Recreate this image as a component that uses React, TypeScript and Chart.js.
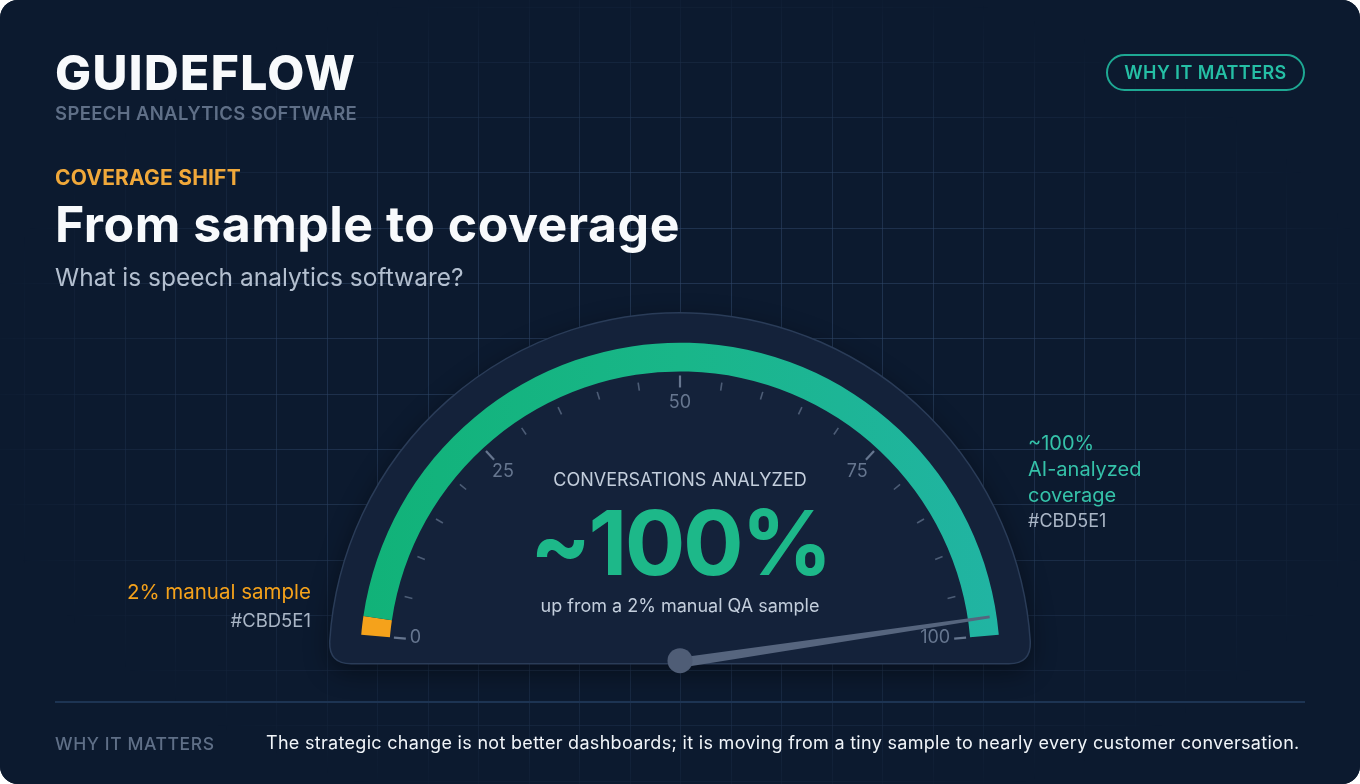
import React, { useEffect, useRef } from "react";
import { Chart, registerables } from "chart.js";

Chart.register(...registerables);

// ---------- data ----------
const SEGMENT_LABELS = ["2% manual sample", "AI-analyzed coverage"];
const SEGMENT_VALUES = [2, 98];
const NEEDLE_VALUE = [98];
const TICK_VALUES = [0, 5, 10, 15, 20, 25, 30, 35, 40, 45, 50, 55, 60, 65, 70, 75, 80, 85, 90, 95, 100];
const MAJOR_TICKS = [0, 25, 50, 75, 100];
const TICK_LABELS = ["0", "25", "50", "75", "100"];
const RIGHT_NOTE = ["~100%", "AI-analyzed", "coverage"];

// ---------- style ----------
const W = 1360;
const H = 784;
const BG = "#0c1a2f";
const ORANGE = "#F5A21B";
const INTER = "Inter, 'Noto Sans', 'DejaVu Sans', sans-serif";

const gaugePlugin = {
  id: "gaugeDecor",
  beforeDraw(chart: any) {
    const ctx = chart.ctx as CanvasRenderingContext2D;
    const arc = chart.getDatasetMeta(0).data[0];
    const cx = arc.x;
    const cy = arc.y;
    ctx.save();
    ctx.fillStyle = BG;
    ctx.fillRect(0, 0, W, H);

    // grid on offscreen canvas, faded with elliptical mask
    const off = document.createElement("canvas");
    off.width = W;
    off.height = H;
    const o = off.getContext("2d") as CanvasRenderingContext2D;
    o.strokeStyle = "rgba(70,98,140,0.55)";
    o.lineWidth = 1;
    for (let x = 23.5; x < W; x += 50.5) {
      o.beginPath();
      o.moveTo(Math.round(x) + 0.5, 0);
      o.lineTo(Math.round(x) + 0.5, H);
      o.stroke();
    }
    for (let y = 6.5; y < H; y += 55.3) {
      o.beginPath();
      o.moveTo(0, Math.round(y) + 0.5);
      o.lineTo(W, Math.round(y) + 0.5);
      o.stroke();
    }
    o.globalCompositeOperation = "destination-in";
    o.save();
    o.translate(690, 400);
    o.scale(1, 0.6);
    const rg = o.createRadialGradient(0, 0, 0, 0, 0, 720);
    rg.addColorStop(0, "rgba(0,0,0,0.75)");
    rg.addColorStop(0.55, "rgba(0,0,0,0.55)");
    rg.addColorStop(0.85, "rgba(0,0,0,0.2)");
    rg.addColorStop(1, "rgba(0,0,0,0)");
    o.fillStyle = rg;
    o.fillRect(-800, -800, 1600, 1600);
    o.restore();
    ctx.drawImage(off, 0, 0);

    // dome panel
    const R = arc.outerRadius + 31;
    const by = cy + 1;
    const rc = 22;
    const th = Math.asin(rc / R);
    ctx.beginPath();
    ctx.moveTo(cx - R + rc, by);
    ctx.quadraticCurveTo(cx - R, by, cx - R * Math.cos(th), by - R * Math.sin(th));
    ctx.arc(cx, by, R, Math.PI + th, 2 * Math.PI - th);
    ctx.quadraticCurveTo(cx + R, by, cx + R - rc, by);
    ctx.closePath();
    ctx.shadowColor = "rgba(0,0,0,0.45)";
    ctx.shadowBlur = 26;
    ctx.shadowOffsetY = 8;
    ctx.fillStyle = "#14223a";
    ctx.fill();
    ctx.shadowColor = "transparent";
    ctx.lineWidth = 1.5;
    ctx.strokeStyle = "#2a3c58";
    ctx.stroke();
    ctx.restore();
  },
  afterDatasetsDraw(chart: any) {
    const ctx = chart.ctx as CanvasRenderingContext2D;
    const meta = chart.getDatasetMeta(0);
    const first = meta.data[0];
    const last = meta.data[meta.data.length - 1];
    const cx = first.x;
    const cy = first.y;
    const inner = first.innerRadius;
    const a0 = first.startAngle;
    const a1 = last.endAngle;
    const ang = (v: number) => a0 + (v / 100) * (a1 - a0);
    ctx.save();
    // ticks
    TICK_VALUES.forEach((v) => {
      const major = MAJOR_TICKS.includes(v);
      const a = ang(v);
      const r1 = inner - 16;
      const r2 = inner - (major ? 4 : 8);
      ctx.beginPath();
      ctx.moveTo(cx + Math.cos(a) * r1, cy + Math.sin(a) * r1);
      ctx.lineTo(cx + Math.cos(a) * r2, cy + Math.sin(a) * r2);
      ctx.lineWidth = major ? 2.2 : 1.6;
      ctx.strokeStyle = major ? "#66768f" : "#4d5d76";
      ctx.stroke();
    });
    // labels
    ctx.font = `400 18px ${INTER}`;
    ctx.fillStyle = "#66768f";
    ctx.textBaseline = "middle";
    MAJOR_TICKS.forEach((v, i) => {
      const a = ang(v);
      if (v === 0 || v === 100) {
        const r = inner - 20;
        ctx.textAlign = v === 0 ? "left" : "right";
        ctx.fillText(TICK_LABELS[i], cx + Math.cos(a) * r, cy + Math.sin(a) * r - 1);
      } else {
        const r = inner - 29;
        ctx.textAlign = "center";
        ctx.fillText(TICK_LABELS[i], cx + Math.cos(a) * r, cy + Math.sin(a) * r + 2);
      }
    });
    // needle
    const a = ang(NEEDLE_VALUE[0]);
    const tipR = first.outerRadius - 7;
    const px = -Math.sin(a);
    const py = Math.cos(a);
    const tx = cx + Math.cos(a) * tipR;
    const ty = cy + Math.sin(a) * tipR;
    ctx.fillStyle = "#56657e";
    ctx.beginPath();
    ctx.moveTo(cx + px * 5, cy + py * 5);
    ctx.lineTo(tx + px * 1.4, ty + py * 1.4);
    ctx.lineTo(tx - px * 1.4, ty - py * 1.4);
    ctx.lineTo(cx - px * 5, cy - py * 5);
    ctx.closePath();
    ctx.fill();
    ctx.beginPath();
    ctx.arc(cx, cy - 2, 12.5, 0, Math.PI * 2);
    ctx.fillStyle = "#4f5d76";
    ctx.fill();
    ctx.restore();
  },
};

function Txt(props: {
  x: number;
  base: number;
  fs: number;
  weight?: number;
  color: string;
  align?: "left" | "right" | "center";
  ls?: number;
  children: any;
}) {
  const { x, base, fs, weight = 400, color, align = "left", ls = 0, children } = props;
  const style: any = {
    position: "absolute",
    top: base - 0.8635 * fs,
    fontSize: fs,
    lineHeight: `${fs}px`,
    fontWeight: weight,
    color,
    letterSpacing: ls,
    whiteSpace: "nowrap",
    fontFamily: INTER,
  };
  if (align === "left") style.left = x;
  else if (align === "right") style.right = W - x;
  else {
    style.left = x - 500;
    style.width = 1000;
    style.textAlign = "center";
  }
  return <div style={style}>{children}</div>;
}

export default function App() {
  const ref = useRef<HTMLCanvasElement | null>(null);

  useEffect(() => {
    document.body.style.margin = "0";
    document.body.style.background = "#ffffff";
    const canvas = ref.current;
    if (!canvas) return;
    const chart = new Chart(canvas, {
      type: "doughnut",
      data: {
        labels: SEGMENT_LABELS,
        datasets: [
          {
            data: SEGMENT_VALUES,
            backgroundColor: (c: any) => {
              if (c.dataIndex === 0) return ORANGE;
              const g = c.chart.ctx.createLinearGradient(W / 2 - 320, 0, W / 2 + 320, 0);
              g.addColorStop(0, "#11b278");
              g.addColorStop(0.5, "#19b689");
              g.addColorStop(1, "#21b4a3");
              return g;
            },
            borderWidth: 0,
            hoverOffset: 0,
          },
        ],
      },
      options: {
        responsive: false,
        animation: false,
        rotation: -85,
        circumference: 170,
        cutout: "91%",
        radius: 320,
        layout: { padding: { top: 196, bottom: 0, left: 0, right: 0 } },
        events: [],
        plugins: {
          legend: { display: false },
          tooltip: { enabled: false },
        },
      } as any,
      plugins: [gaugePlugin],
    });
    return () => chart.destroy();
  }, []);

  return (
    <div
      style={{
        position: "relative",
        width: W,
        height: H,
        borderRadius: 18,
        overflow: "hidden",
        background: BG,
        fontFamily: INTER,
      }}
    >
      <canvas
        ref={ref}
        width={W}
        height={H}
        style={{ position: "absolute", left: 0, top: 0, width: W, height: H }}
      />

      <Txt x={55} base={90} fs={48} weight={800} color="#f8fafc" ls={1.4}>GUIDEFLOW</Txt>
      <Txt x={55} base={119.5} fs={18.5} weight={600} color="#5f6f87" ls={0.35}>SPEECH ANALYTICS SOFTWARE</Txt>
      <Txt x={55} base={185} fs={21} weight={700} color="#f0a83a" ls={0.2}>COVERAGE SHIFT</Txt>
      <Txt x={55} base={242} fs={50} weight={700} color="#f8fafc" ls={0.5}>From sample to coverage</Txt>
      <Txt x={55} base={286} fs={24.5} weight={400} color="#b3bfcf">What is speech analytics software?</Txt>

      <div
        style={{
          position: "absolute",
          left: 1106,
          top: 54,
          width: 199,
          height: 37,
          boxSizing: "border-box",
          border: "2px solid #1ea893",
          borderRadius: 19,
          display: "flex",
          alignItems: "center",
          justifyContent: "center",
          color: "#25bfa5",
          fontSize: 18,
          fontWeight: 600,
          letterSpacing: 0.4,
          fontFamily: INTER,
        }}
      >
        WHY IT MATTERS
      </div>

      <Txt x={680} base={487} fs={18} weight={400} color="#c3cedc" align="center">CONVERSATIONS ANALYZED</Txt>
      <Txt x={680} base={576} fs={90} weight={700} color="#1db889" align="center" ls={-2.5}>~100%</Txt>
      <Txt x={680} base={613} fs={18} weight={400} color="#c3cedc" align="center">up from a 2% manual QA sample</Txt>

      <Txt x={311} base={600} fs={20.5} weight={400} color={ORANGE} align="right">{SEGMENT_LABELS[0]}</Txt>
      <Txt x={311} base={627} fs={18.5} weight={400} color="#aab6c6" align="right">#CBD5E1</Txt>

      {RIGHT_NOTE.map((t, i) => (
        <Txt key={t} x={1028} base={450 + i * 26} fs={20} weight={400} color="#35c2a9">{t}</Txt>
      ))}
      <Txt x={1028} base={528} fs={18} weight={400} color="#aab6c6">#CBD5E1</Txt>

      <div style={{ position: "absolute", left: 55, top: 701, width: 1250, height: 2, background: "#1d3453" }} />
      <Txt x={55} base={750} fs={17.5} weight={500} color="#5f6f87" ls={0.6}>WHY IT MATTERS</Txt>
      <Txt x={266} base={750} fs={18} weight={400} color="#f1f5f9" ls={0.3}>
        The strategic change is not better dashboards; it is moving from a tiny sample to nearly every customer conversation.
      </Txt>
    </div>
  );
}
